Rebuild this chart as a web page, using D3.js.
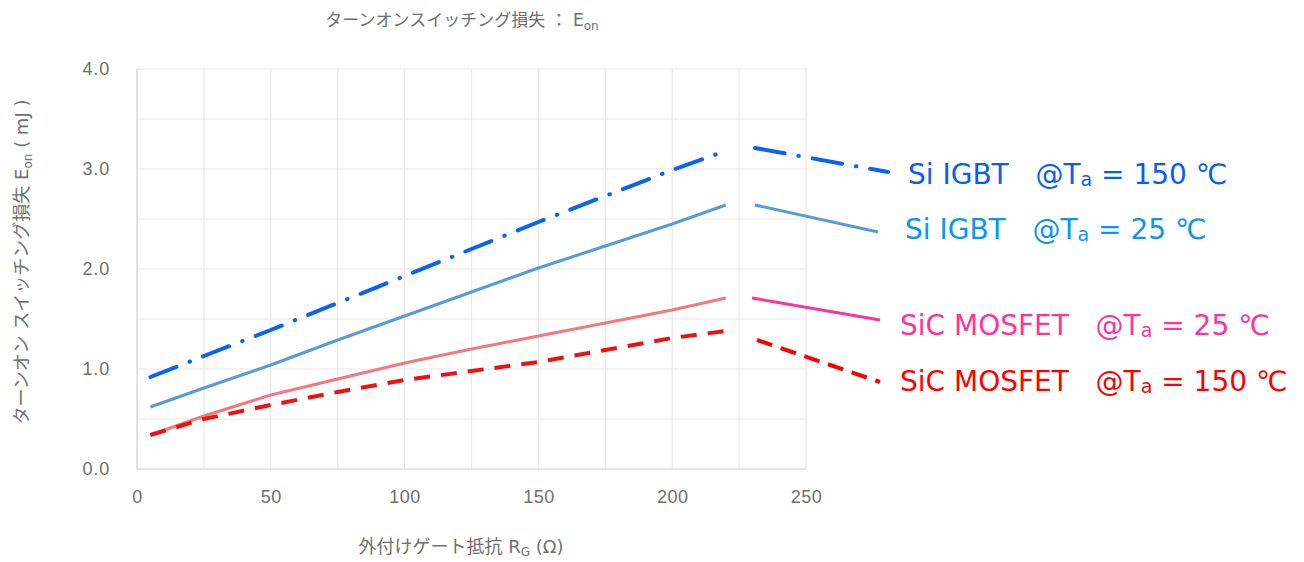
<!DOCTYPE html>
<html><head><meta charset="utf-8">
<script src="https://cdn.jsdelivr.net/npm/d3@7"></script>
<style>
body{margin:0;background:#fff;}
svg{display:block;font-family:"DejaVu Sans","Noto Sans CJK JP",sans-serif;}
</style></head>
<body><svg id="c" width="1304" height="562"></svg>
<script>
const rg = [5, 25, 50, 75, 100, 125, 150, 175, 200, 220];
const igbt150 = [0.92, 1.13, 1.39, 1.66, 1.93, 2.20, 2.47, 2.73, 2.99, 3.18];
const igbt25  = [0.62, 0.81, 1.04, 1.29, 1.53, 1.77, 2.01, 2.23, 2.45, 2.64];
const sic25   = [0.34, 0.53, 0.74, 0.90, 1.06, 1.20, 1.33, 1.46, 1.59, 1.71];
const sic150  = [0.34, 0.50, 0.64, 0.77, 0.89, 0.98, 1.07, 1.19, 1.31, 1.38];
const xTicks = [0, 50, 100, 150, 200, 250];
const yTicks = [0, 1, 2, 3, 4];
const seriesNames = ["Si IGBT", "Si IGBT", "SiC MOSFET", "SiC MOSFET"];
const seriesTemps = ["150", "25", "25", "150"];

const svg = d3.select("#c");
const L = 137, R = 806, T = 69, B = 469;
const x = d3.scaleLinear().domain([0, 250]).range([L, R]);
const y = d3.scaleLinear().domain([0, 4]).range([B, T]);
const gray = "#707070";

// grid
const g = svg.append("g");
g.selectAll(".vg").data(d3.range(0, 251, 25)).join("line")
  .attr("x1", d => x(d)).attr("x2", d => x(d)).attr("y1", T).attr("y2", B)
  .attr("stroke", "#e8e8e8").attr("stroke-width", 1.2);
g.selectAll(".hg").data(d3.range(0, 4.01, 0.5)).join("line")
  .attr("y1", d => y(d)).attr("y2", d => y(d)).attr("x1", L).attr("x2", R)
  .attr("stroke", "#e8e8e8").attr("stroke-width", 1.2);
g.append("line").attr("x1", L).attr("x2", L).attr("y1", T).attr("y2", B).attr("stroke", "#d9d9d9").attr("stroke-width", 1.2);
g.append("line").attr("x1", L).attr("x2", R).attr("y1", B).attr("y2", B).attr("stroke", "#d9d9d9").attr("stroke-width", 1.2);

// axes
const xa = svg.append("g").attr("transform", `translate(0,${B})`)
  .call(d3.axisBottom(x).tickValues(xTicks).tickSize(0).tickPadding(21).tickFormat(d3.format("d")));
xa.select(".domain").remove();
xa.selectAll("text").attr("font-size", 18).attr("fill", gray).attr("letter-spacing", 0.5);
const ya = svg.append("g").attr("transform", `translate(${L},0)`)
  .call(d3.axisLeft(y).tickValues(yTicks).tickSize(0).tickPadding(27).tickFormat(d3.format(".1f")));
ya.select(".domain").remove();
ya.selectAll("text").attr("font-size", 18).attr("fill", gray).attr("letter-spacing", 0.8);

// lines
const series = [
  {v: igbt150, color: "#0a64f0", w: 4, dash: "28,14,0.5,14", cap: "round", tc: "#0a5cf5", lc: "#0a64f0"},
  {v: igbt25, color: "#5b9bd5", w: 3, dash: null, cap: "butt", tc: "#0a96f0", lc: "#5b9bd5"},
  {v: sic25, color: "#f4787c", w: 3, dash: null, cap: "butt", tc: "#ff3399", lc: "#ff3399"},
  {v: sic150, color: "#ee1111", w: 4, dash: "16,11", cap: "butt", tc: "#ff0000", lc: "#ff0000"}
];
const line = d3.line().x((d, i) => x(rg[i])).y(d => y(d));
series.forEach(s => {
  svg.append("path").datum(s.v).attr("d", line).attr("fill", "none")
    .attr("stroke", s.color).attr("stroke-width", s.w)
    .attr("stroke-dasharray", s.dash).attr("stroke-linecap", s.cap);
});

// legend (callout lines + labels)
const leg = [
  {x1: 755, y1: 148, x2: 888, y2: 172, tx: 908, ty: 184},
  {x1: 755, y1: 205, x2: 878, y2: 232, tx: 905, ty: 239},
  {x1: 752, y1: 298, x2: 880, y2: 320, tx: 900, ty: 335},
  {x1: 757, y1: 340, x2: 880, y2: 382, tx: 900, ty: 391}
];
series.forEach((s, i) => {
  const p = leg[i];
  svg.append("line").attr("x1", p.x1).attr("y1", p.y1).attr("x2", p.x2).attr("y2", p.y2)
    .attr("stroke", s.lc).attr("stroke-width", s.w)
    .attr("stroke-dasharray", i === 0 ? "30,14,0.5,14" : (i === 3 ? "16,9" : null))
    .attr("stroke-linecap", s.cap);
  const t = svg.append("text").attr("x", p.tx).attr("y", p.ty).attr("font-size", 28)
    .attr("fill", s.tc).attr("font-family", "DejaVu Sans");
  t.append("tspan").text(seriesNames[i] + "\u00a0\u00a0 @T");
  t.append("tspan").text("a").attr("font-size", 19).attr("dy", 2);
  t.append("tspan").text(" = " + seriesTemps[i] + " \u2103").attr("dy", -2);
});

// title
const title = svg.append("text").attr("x", 462).attr("y", 26).attr("text-anchor", "middle")
  .attr("font-size", 17).attr("fill", gray);
title.append("tspan").text("ターンオンスイッチング損失 ： E");
title.append("tspan").text("on").attr("font-size", 12).attr("dy", 4);

// x label
const xl = svg.append("text").attr("x", 461).attr("y", 553).attr("text-anchor", "middle")
  .attr("font-size", 18).attr("fill", gray);
xl.append("tspan").text("外付けゲート抵抗 R");
xl.append("tspan").text("G").attr("font-size", 12).attr("dy", 3);
xl.append("tspan").text(" (Ω)").attr("dy", -3);

// y label
const yl = svg.append("text").attr("transform", "translate(28,262) rotate(-90)").attr("text-anchor", "middle")
  .attr("font-size", 18).attr("fill", gray);
yl.append("tspan").text("ターンオン スイッチング損失 E");
yl.append("tspan").text("on").attr("font-size", 12).attr("dy", 4);
yl.append("tspan").text(" ( mJ )").attr("dy", -4);
</script></body></html>
